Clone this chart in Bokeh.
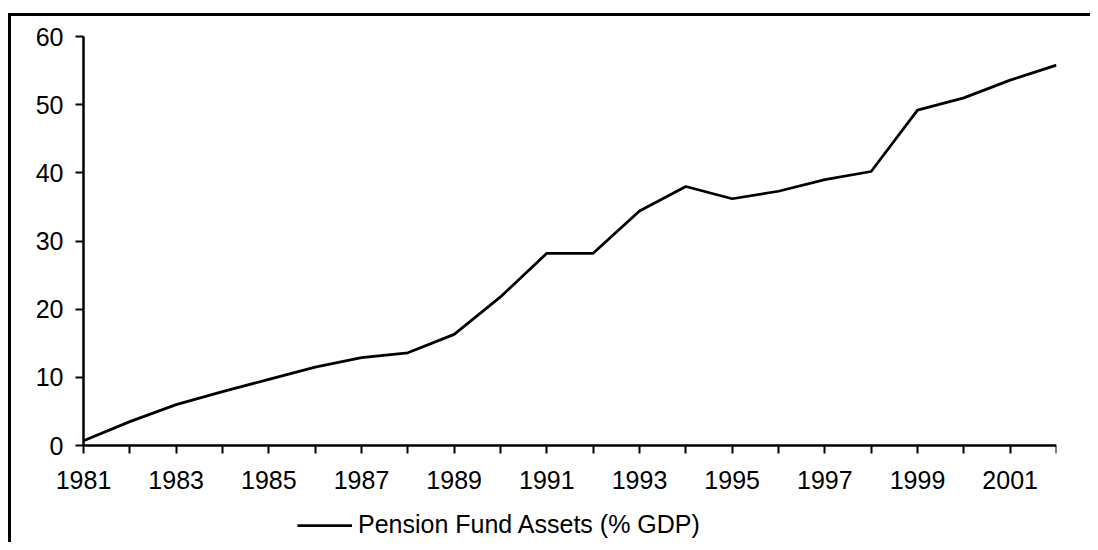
from bokeh.plotting import figure
from bokeh.models import ColumnDataSource, FixedTicker, Legend, LegendItem, Range1d
from bokeh.embed import file_html
from bokeh.resources import INLINE

years = list(range(1981, 2003))
assets = [0.7, 3.5, 6.0, 7.9, 9.7, 11.5, 12.9, 13.6, 16.3, 21.8, 28.2,
          28.2, 34.4, 38.0, 36.2, 37.3, 39.0, 40.2, 49.2, 51.0, 53.6, 55.8]
series_name = "Pension Fund Assets (% GDP)"
x_label_years = list(range(1981, 2003, 2))
x_minor_years = list(range(1982, 2003, 2))
y_ticks = [0, 10, 20, 30, 40, 50, 60]

FONT = "Liberation Sans"

# The plot frame covers the tick labels and the legend too; both axes are
# pinned at the data origin (1981, 0) and bounded to the data extent.
p = figure(width=1090, height=542, output_backend="svg", toolbar_location=None,
           x_range=Range1d(1979.64, 2002), y_range=Range1d(-14.23, 62.35),
           min_border_left=20, min_border_right=34,
           min_border_top=20, min_border_bottom=0)
p.outline_line_color = None
p.xgrid.grid_line_color = None
p.ygrid.grid_line_color = None
p.background_fill_color = "white"
p.border_fill_alpha = 0
# chart-area frame (left and top edges), drawn behind the transparent canvas border
p.styles = {
    "background": "linear-gradient(#000,#000) 8px 13px / 3px 100% no-repeat, "
                  "linear-gradient(#000,#000) 8px 13px / 100% 3px no-repeat, #fff"
}

src = ColumnDataSource(dict(x=years, y=assets))
r = p.line("x", "y", source=src, line_color="black", line_width=2.75)

xa = p.xaxis[0]
xa.fixed_location = 0
xa.bounds = (years[0], years[-1])
xa.ticker = FixedTicker(ticks=x_label_years, minor_ticks=x_minor_years)
xa.axis_line_width = 2.5
xa.axis_line_color = "black"
xa.major_tick_line_width = 2
xa.major_tick_out = 8
xa.major_tick_in = 0
xa.minor_tick_line_width = 2
xa.minor_tick_out = 8
xa.minor_tick_in = 0
xa.major_label_text_font = FONT
xa.major_label_text_font_size = "25px"
xa.major_label_text_color = "black"
xa.major_label_standoff = 17

ya = p.yaxis[0]
ya.fixed_location = years[0]
ya.bounds = (y_ticks[0], y_ticks[-1])
ya.ticker = FixedTicker(ticks=y_ticks)
ya.axis_line_width = 2.5
ya.axis_line_color = "black"
ya.major_tick_line_width = 2
ya.major_tick_out = 8
ya.major_tick_in = 0
ya.minor_tick_line_color = None
ya.major_label_text_font = FONT
ya.major_label_text_font_size = "25px"
ya.major_label_text_color = "black"
ya.major_label_standoff = 12

legend = Legend(items=[LegendItem(label=series_name, renderers=[r])],
                location=(277, 3), orientation="horizontal",
                glyph_width=55, glyph_height=20, label_standoff=6,
                padding=0, margin=0, border_line_color=None,
                background_fill_alpha=0,
                label_text_font=FONT, label_text_font_size="25px",
                label_text_color="black")
p.add_layout(legend, "center")

open("out.html", "w").write(file_html(p, INLINE))
